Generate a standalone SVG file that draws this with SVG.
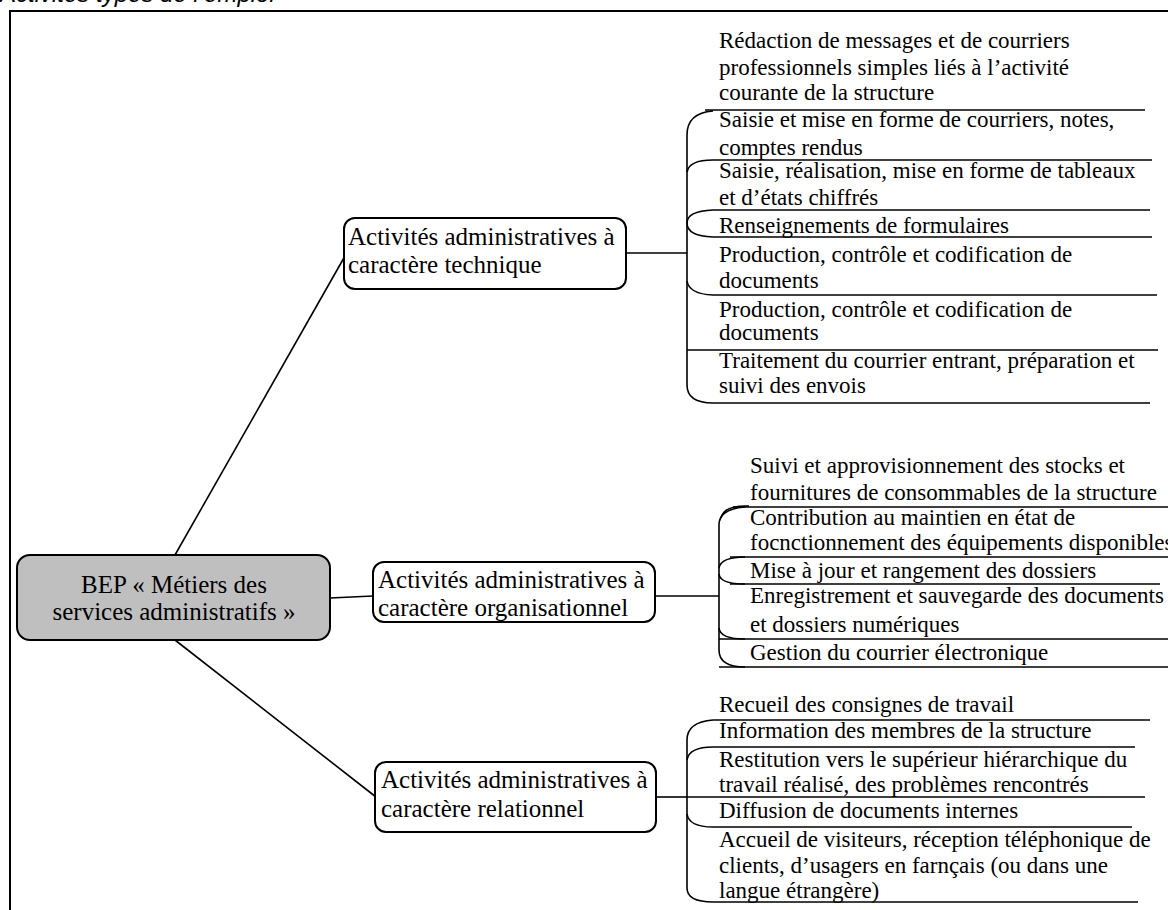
<svg xmlns="http://www.w3.org/2000/svg" width="1168" height="910" viewBox="0 0 1168 910">
<style>
.frame{fill:none;stroke:#000;stroke-width:2}
.node{fill:#fff;stroke:#000;stroke-width:2}
.root{fill:#bfbfbf;stroke:#000;stroke-width:2}
.ln{fill:none;stroke:#000;stroke-width:1.6}
.nt{font-family:"Liberation Serif",serif;font-size:25px;fill:#000}
.it{font-family:"Liberation Serif",serif;font-size:23px;fill:#000}
.title{font-family:"Liberation Sans",sans-serif;font-style:italic;font-size:24px;fill:#000}
</style>
<rect width="1168" height="910" fill="#fff"/>
<text class="title" x="0" y="2">Activités types de l’emploi</text>
<rect class="frame" x="10" y="11" width="1170" height="910"/>

<g id="connectors">
  <line class="ln" x1="175" y1="555" x2="345" y2="256"/>
  <line class="ln" x1="330" y1="598" x2="373" y2="596"/>
  <line class="ln" x1="175" y1="640" x2="376" y2="797"/>
  <line class="ln" x1="626" y1="253" x2="687" y2="253"/>
  <line class="ln" x1="655" y1="596" x2="719" y2="596"/>
  <line class="ln" x1="656" y1="797" x2="687" y2="797"/>
  <!-- bracket technique -->
  <path class="ln" d="M713,111 Q687,113 687,135 L687,385 Q687,403 713,403"/>
  <path class="ln" d="M687,172 Q689,160 713,160"/>
  <path class="ln" d="M713,210 Q687,211 687,223 Q687,236 713,237"/>
  <path class="ln" d="M687,281 Q689,294 713,295"/>
  <path class="ln" d="M705,110 H1145 M713,160 H1152 M713,210 H1150 M713,237 H1152 M713,295 H1157 M687,350 H1158 M713,403 H1150"/>
  <!-- bracket organisationnel -->
  <path class="ln" d="M745,507 Q719,509 719,525 L719,650 Q719,667 745,667"/>
  <path class="ln" d="M749,506 Q724,505 721,518"/>
  <path class="ln" d="M719,568 Q721,557 745,557"/>
  <path class="ln" d="M719,574 Q720,584 745,584"/>
  <path class="ln" d="M719,628 Q720,639 745,639"/>
  <path class="ln" d="M733,507 H1168 M730,557 H1168 M730,584 H1160 M719,639 H1168 M719,667 H1168"/>
  <!-- bracket relationnel -->
  <path class="ln" d="M713,720 Q687,722 687,740 L687,888 Q687,902 713,902"/>
  <path class="ln" d="M687,760 Q689,747 713,747"/>
  <path class="ln" d="M687,814 Q689,827 713,827"/>
  <path class="ln" d="M713,720 H1150 M713,747 H1135 M687,797 H1145 M713,827 H1132 M713,902 H1138"/>
</g>

<g id="root">
  <rect class="root" x="17" y="555" width="313" height="85" rx="13"/>
  <text class="nt" x="174" y="593" text-anchor="middle">BEP « Métiers des</text>
  <text class="nt" x="174" y="620" text-anchor="middle">services administratifs »</text>
</g>
<g id="node-technique">
  <rect class="node" x="344" y="218" width="282" height="71" rx="11"/>
  <text class="nt" x="348" y="245">Activités administratives à</text>
  <text class="nt" x="348" y="273">caractère technique</text>
</g>
<g id="node-organisationnel">
  <rect class="node" x="373" y="562" width="282" height="60" rx="11"/>
  <text class="nt" x="378" y="588">Activités administratives à</text>
  <text class="nt" x="378" y="616">caractère organisationnel</text>
</g>
<g id="node-relationnel">
  <rect class="node" x="375" y="762" width="281" height="70" rx="11"/>
  <text class="nt" x="381" y="788">Activités administratives à</text>
  <text class="nt" x="381" y="817">caractère relationnel</text>
</g>

<g id="items-technique">
  <text class="it" x="719" y="48">Rédaction de messages et de courriers</text>
  <text class="it" x="719" y="75">professionnels simples liés à l’activité</text>
  <text class="it" x="719" y="100">courante de la structure</text>
  <text class="it" x="719" y="127">Saisie et mise en forme de courriers, notes,</text>
  <text class="it" x="719" y="155">comptes rendus</text>
  <text class="it" x="719" y="178">Saisie, réalisation, mise en forme de tableaux</text>
  <text class="it" x="719" y="205">et d’états chiffrés</text>
  <text class="it" x="719" y="233">Renseignements de formulaires</text>
  <text class="it" x="719" y="262">Production, contrôle et codification de</text>
  <text class="it" x="719" y="288">documents</text>
  <text class="it" x="719" y="317">Production, contrôle et codification de</text>
  <text class="it" x="719" y="340">documents</text>
  <text class="it" x="719" y="368">Traitement du courrier entrant, préparation et</text>
  <text class="it" x="719" y="393">suivi des envois</text>
</g>
<g id="items-organisationnel">
  <text class="it" x="750" y="473">Suivi et approvisionnement des stocks et</text>
  <text class="it" x="750" y="500">fournitures de consommables de la structure</text>
  <text class="it" x="750" y="525">Contribution au maintien en état de</text>
  <text class="it" x="750" y="550">focnctionnement des équipements disponibles</text>
  <text class="it" x="750" y="578">Mise à jour et rangement des dossiers</text>
  <text class="it" x="750" y="603">Enregistrement et sauvegarde des documents</text>
  <text class="it" x="750" y="632">et dossiers numériques</text>
  <text class="it" x="750" y="660">Gestion du courrier électronique</text>
</g>
<g id="items-relationnel">
  <text class="it" x="719" y="712">Recueil des consignes de travail</text>
  <text class="it" x="719" y="738">Information des membres de la structure</text>
  <text class="it" x="719" y="767">Restitution vers le supérieur hiérarchique du</text>
  <text class="it" x="719" y="792">travail réalisé, des problèmes rencontrés</text>
  <text class="it" x="719" y="818">Diffusion de documents internes</text>
  <text class="it" x="719" y="847">Accueil de visiteurs, réception téléphonique de</text>
  <text class="it" x="719" y="873">clients, d’usagers en farnçais (ou dans une</text>
  <text class="it" x="719" y="898">langue étrangère)</text>
</g>
</svg>
